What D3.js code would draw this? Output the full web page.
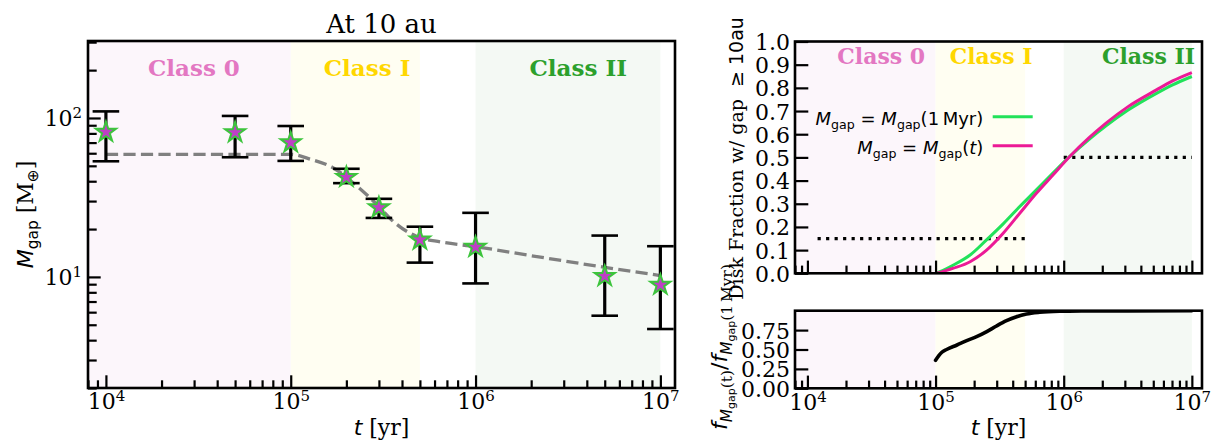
<!DOCTYPE html>
<html><head><meta charset="utf-8">
<script src="https://cdn.jsdelivr.net/npm/d3@7"></script>
<style>html,body{margin:0;padding:0;background:#fff;} svg{display:block;}</style>
</head><body>
<svg id="c" width="1216" height="443"></svg>
<script>
// ---------------- data ----------------
const obsT  = [1e4, 5e4, 1e5, 2e5, 3e5, 5e5, 1e6, 5e6, 1e7];
const obsM  = [81.5, 81, 70, 42.4, 27.3, 17.1, 15.4, 10.1, 8.9];
const obsHi = [110, 103, 89, 47.9, 31.0, 20.7, 25.3, 18.2, 15.6];
const obsLo = [53.4, 56.6, 53.7, 38.9, 23.5, 12.3, 9.1, 5.7, 4.7];

const modelT = [1e4, 1e5, 1.28e5, 1.71e5, 2.3e5, 2.94e5, 3.61e5, 4.84e5, 6.5e5, 1e6, 2e6, 5e6, 1e7];
const modelM = [59, 59, 55, 48.3, 37, 28.4, 22.2, 17.9, 16.6, 15.5, 13.6, 11.5, 10.2];

const fracT     = [1e5, 1.08e5, 1.38e5, 1.86e5, 2.5e5, 3.37e5, 4.54e5, 6.12e5, 8.24e5, 1.11e6, 1.58e6, 2.14e6, 3.16e6, 5.25e6, 7.08e6, 1e7];
const fracConst = [0, 0.007, 0.036, 0.079, 0.144, 0.213, 0.288, 0.36, 0.432, 0.503, 0.578, 0.636, 0.703, 0.775, 0.813, 0.849];
const fracEvol  = [0, 0.004, 0.022, 0.05, 0.1, 0.173, 0.259, 0.345, 0.424, 0.503, 0.585, 0.648, 0.718, 0.79, 0.83, 0.866];

const ratioT = [1e5, 1.06e5, 1.12e5, 1.22e5, 1.47e5, 1.75e5, 2.09e5, 2.51e5, 2.99e5, 3.58e5, 4.29e5, 5.12e5, 6.5e5, 9.3e5, 1.41e6, 3e6, 1e7];
const ratio  = [0.36, 0.42, 0.465, 0.5, 0.558, 0.614, 0.665, 0.73, 0.803, 0.871, 0.923, 0.957, 0.979, 0.992, 0.996, 0.998, 0.999];

const obsFracStart = [1.2e4, 1e6];
const obsFracEnd   = [5e5, 1e7];
const obsFrac      = [0.15, 0.5];

const classNames = ["Class 0", "Class I", "Class II"];
const classStart = [5e3, 1e5, 1e6];
const classEnd   = [1e5, 5e5, 1e7];
const classLabelTL = [1.69e4, 1.51e5, 1.96e6];
const classLabelTR = [1.71e4, 1.29e5, 1.99e6];

const xTicks   = [1e4, 1e5, 1e6, 1e7];
const yTicksL  = [10, 100];
const yTicksRT = [0, 0.1, 0.2, 0.3, 0.4, 0.5, 0.6, 0.7, 0.8, 0.9, 1.0];
const yTicksRB = [0, 0.25, 0.5, 0.75];
const legendLabels = ["const", "evol"];

// ---------------- style ----------------
const SERIF = "'DejaVu Serif', serif", SANS = "'DejaVu Sans', sans-serif";
const classColor = ["#e377c2", "#ffd700", "#2ca02c"];
const bandColor  = ["#fcf6fb", "#fffef2", "#f4f9f4"];
const GREEN = "#22e25a", PINK = "#ec1a96";

const svg = d3.select('#c');
const LP = {l:88, r:675, t:41, b:388};
const RT = {l:795, r:1202, t:41.5, b:273.3};
const RB = {l:795, r:1202, t:310.7, b:388.3};
const tDom = [8e3, 1.2e7];

const xL  = d3.scaleLog().domain(tDom).range([LP.l, LP.r]);
const yL  = d3.scaleLog().domain([2, 305]).range([LP.b, LP.t]);
const xR  = d3.scaleLog().domain(tDom).range([RT.l, RT.r]);
const yRT = d3.scaleLinear().domain([0, 1]).range([RT.b, RT.t]);
const yRB = d3.scaleLinear().domain([0, 1]).range([RB.b, RB.t]);

function minorLog(dom){
  const out=[];
  for(let e=Math.floor(Math.log10(dom[0])); e<=Math.ceil(Math.log10(dom[1])); e++)
    for(let m=2;m<=9;m++){ const v=m*Math.pow(10,e); if(v>=dom[0]&&v<=dom[1]) out.push(v); }
  return out;
}

const defs = svg.append('defs');
function clip(id, P){
  defs.append('clipPath').attr('id',id).append('rect')
    .attr('x',P.l).attr('y',P.t).attr('width',P.r-P.l).attr('height',P.b-P.t);
  return svg.append('g').attr('clip-path',`url(#${id})`);
}

function bands(g, x, P){
  g.selectAll('rect.band').data(classNames).join('rect').attr('class','band')
    .attr('x',(d,i)=>x(classStart[i])).attr('width',(d,i)=>x(classEnd[i])-x(classStart[i]))
    .attr('y',P.t).attr('height',P.b-P.t).attr('fill',(d,i)=>bandColor[i]);
}

function styleAxis(g){
  g.select('.domain').remove();
  g.selectAll('.tick line').attr('stroke','#000').attr('stroke-width',2.2);
}
function powLabels(g, yb){
  g.selectAll('.tick text').each(function(d){
    const t=d3.select(this);
    t.text(null).attr('y',yb).attr('dy',null).attr('font-family',SERIF).attr('font-size',22).attr('fill','#000');
    t.append('tspan').text('10');
    t.append('tspan').attr('font-size',15).attr('dy',-8).text(Math.round(Math.log10(d)));
  });
}
function numLabels(g, fmt){
  g.selectAll('.tick text').each(function(d){
    d3.select(this).text(fmt(d)).attr('x',-5).attr('y',8).attr('dy',null)
      .attr('font-family',SERIF).attr('font-size',22).attr('fill','#000');
  });
}
function xAxes(x, P, labels){
  svg.append('g').attr('transform',`translate(0,${P.b})`)
    .call(d3.axisBottom(x).tickValues(minorLog(tDom)).tickSize(-7.7).tickSizeOuter(0).tickFormat(''))
    .call(styleAxis);
  const g = svg.append('g').attr('transform',`translate(0,${P.b})`)
    .call(d3.axisBottom(x).tickValues(xTicks).tickSize(-12.7).tickSizeOuter(0).tickFormat(''))
    .call(styleAxis);
  if(labels) g.call(gg=>powLabels(gg, 21.3));
  else g.selectAll('.tick text').remove();
}
function frame(P){
  svg.append('rect').attr('x',P.l).attr('y',P.t).attr('width',P.r-P.l).attr('height',P.b-P.t)
    .attr('fill','none').attr('stroke','#000').attr('stroke-width',2.6);
}

// ================= LEFT PANEL =================
const gL = clip('clipL', LP);
bands(gL, xL, LP);
gL.selectAll('text.cls').data(classNames).join('text').attr('class','cls')
  .attr('x',(d,i)=>xL(classLabelTL[i])).attr('y',76)
  .attr('font-family',SERIF).attr('font-weight','bold').attr('font-size',23)
  .attr('fill',(d,i)=>classColor[i]).text(d=>d);

const modelLine = d3.line().x((d,i)=>xL(modelT[i])).y(d=>yL(d)).curve(d3.curveMonotoneX);
gL.append('path').datum(modelM).attr('d',modelLine).attr('fill','none')
  .attr('stroke','#808080').attr('stroke-width',3.3).attr('stroke-dasharray','12.2,5.3');

const eb = svg.append('g');
eb.selectAll('line.bar').data(obsT).join('line').attr('class','bar')
  .attr('x1',d=>xL(d)).attr('x2',d=>xL(d))
  .attr('y1',(d,i)=>yL(obsLo[i])).attr('y2',(d,i)=>yL(obsHi[i]))
  .attr('stroke','#000').attr('stroke-width',3.2);
['lo','hi'].forEach(k=>{
  const arr = k==='lo'?obsLo:obsHi;
  eb.selectAll('line.cap'+k).data(obsT).join('line').attr('class','cap'+k)
    .attr('x1',d=>xL(d)-13.3).attr('x2',d=>xL(d)+13.3)
    .attr('y1',(d,i)=>yL(arr[i])).attr('y2',(d,i)=>yL(arr[i]))
    .attr('stroke','#000').attr('stroke-width',2.6);
});
const star = d3.symbol().type(d3.symbolStar).size(125);
svg.append('g').selectAll('path').data(obsT).join('path')
  .attr('transform',(d,i)=>`translate(${xL(d)},${yL(obsM[i])})`)
  .attr('d',star).attr('fill','#bf3fc6').attr('stroke','#3cc43c').attr('stroke-width',2)
  .attr('stroke-linejoin','miter');

frame(LP);
xAxes(xL, LP, true);
svg.append('g').attr('transform',`translate(${LP.l},0)`)
  .call(d3.axisLeft(yL).tickValues(minorLog([2,305])).tickSize(-8.7).tickSizeOuter(0).tickFormat(''))
  .call(styleAxis);
svg.append('g').attr('transform',`translate(${LP.l},0)`)
  .call(d3.axisLeft(yL).tickValues(yTicksL).tickSize(-12.7).tickSizeOuter(0).tickFormat(''))
  .call(styleAxis)
  .call(g=>g.selectAll('.tick text').each(function(d){
    const t=d3.select(this);
    t.text(null).attr('x',-6).attr('y',8).attr('dy',null).attr('font-family',SERIF).attr('font-size',22).attr('fill','#000');
    t.append('tspan').text('10');
    t.append('tspan').attr('font-size',15).attr('dy',-8).text(Math.round(Math.log10(d)));
  }));

svg.append('text').attr('x',(LP.l+LP.r)/2).attr('y',33).attr('text-anchor','middle')
  .attr('font-family',SERIF).attr('font-size',26).text('At 10 au');

function xLabel(cx){
  const t = svg.append('text').attr('x',cx).attr('y',435).attr('text-anchor','middle').attr('font-size',22);
  t.append('tspan').attr('font-family',SANS).attr('font-style','italic').text('t');
  t.append('tspan').attr('font-family',SERIF).text('\u00a0[yr]');
}
xLabel((LP.l+LP.r)/2);

{
  const t = svg.append('text').attr('transform',`translate(33,${(LP.t+LP.b)/2}) rotate(-90)`)
    .attr('text-anchor','middle').attr('font-size',22);
  t.append('tspan').attr('font-family',SANS).attr('font-style','italic').text('M');
  t.append('tspan').attr('font-family',SANS).attr('font-size',15.4).attr('dy',4.5).text('gap');
  t.append('tspan').attr('font-family',SERIF).attr('dy',-4.5).text('\u00a0[M');
  t.append('tspan').attr('font-family',SANS).attr('font-size',15.4).attr('dy',4.5).text('\u2295');
  t.append('tspan').attr('font-family',SERIF).attr('dy',-4.5).text(']');
}

// ================= RIGHT TOP PANEL =================
const gRT = clip('clipRT', RT);
bands(gRT, xR, RT);
gRT.selectAll('text.cls').data(classNames).join('text').attr('class','cls')
  .attr('x',(d,i)=>xR(classLabelTR[i])).attr('y',64)
  .attr('font-family',SERIF).attr('font-weight','bold').attr('font-size',22)
  .attr('fill',(d,i)=>classColor[i]).text(d=>d);

gRT.selectAll('line.obs').data(obsFrac).join('line').attr('class','obs')
  .attr('x1',(d,i)=>xR(obsFracStart[i])).attr('x2',(d,i)=>xR(obsFracEnd[i]))
  .attr('y1',d=>yRT(d)).attr('y2',d=>yRT(d))
  .attr('stroke','#000').attr('stroke-width',3.2).attr('stroke-dasharray','3.2,5.3');

const fracLine = d3.line().x((d,i)=>xR(fracT[i])).y(d=>yRT(d)).curve(d3.curveMonotoneX);
gRT.append('path').datum(fracConst).attr('d',fracLine).attr('fill','none').attr('stroke',GREEN).attr('stroke-width',3);
gRT.append('path').datum(fracEvol).attr('d',fracLine).attr('fill','none').attr('stroke',PINK).attr('stroke-width',3);

// legend
const legY = [116.7, 145.7];
const legCol = [GREEN, PINK];
const leg = svg.append('g');
legendLabels.forEach((k,i)=>{
  leg.append('line').attr('x1',992.7).attr('x2',1032.7).attr('y1',legY[i]).attr('y2',legY[i])
    .attr('stroke',legCol[i]).attr('stroke-width',3);
  const t = leg.append('text').attr('x',983.3).attr('y',legY[i]+8).attr('text-anchor','end')
    .attr('font-family',SANS).attr('font-size',18);
  t.append('tspan').attr('font-style','italic').text('M');
  t.append('tspan').attr('font-size',12.6).attr('dy',4).text('gap');
  t.append('tspan').attr('dy',-4).text('\u00a0=\u00a0');
  t.append('tspan').attr('font-style','italic').text('M');
  t.append('tspan').attr('font-size',12.6).attr('dy',4).text('gap');
  if(k==='const'){
    t.append('tspan').attr('dy',-4).text('(1\u2009Myr)');
  } else {
    t.append('tspan').attr('dy',-4).text('(');
    t.append('tspan').attr('font-style','italic').text('t');
    t.append('tspan').text(')');
  }
});

frame(RT);
xAxes(xR, RT, false);
svg.append('g').attr('transform',`translate(${RT.l},0)`)
  .call(d3.axisLeft(yRT).tickValues(yTicksRT).tickSize(-13.3).tickSizeOuter(0))
  .call(styleAxis).call(g=>numLabels(g, d3.format('.1f')));

{
  const t = svg.append('text').attr('transform',`translate(743,${(RT.t+RT.b)/2+1}) rotate(-90)`)
    .attr('text-anchor','middle').attr('font-size',19);
  t.append('tspan').attr('font-family',SERIF).text('Disk Fraction w/ gap\u00a0\u00a0');
  t.append('tspan').attr('font-family',SANS).text('\u2265\u00a010au');
}

// ================= RIGHT BOTTOM PANEL =================
const gRB = clip('clipRB', RB);
bands(gRB, xR, RB);
const ratioLine = d3.line().x((d,i)=>xR(ratioT[i])).y(d=>yRB(d)).curve(d3.curveMonotoneX);
gRB.append('path').datum(ratio).attr('d',ratioLine).attr('fill','none')
  .attr('stroke','#000').attr('stroke-width',3.6).attr('stroke-linecap','round');

frame(RB);
xAxes(xR, RB, true);
svg.append('g').attr('transform',`translate(${RB.l},0)`)
  .call(d3.axisLeft(yRB).tickValues(yTicksRB).tickSize(-13.3).tickSizeOuter(0))
  .call(styleAxis).call(g=>numLabels(g, d3.format('.2f')));
xLabel((RB.l+RB.r)/2);

{
  const t = svg.append('text').attr('transform',`translate(727,347) rotate(-90)`)
    .attr('text-anchor','middle').attr('font-size',22).attr('font-family',SANS);
  t.append('tspan').attr('font-style','italic').text('f');
  t.append('tspan').attr('font-style','italic').attr('font-size',15.4).attr('dy',4.5).text('M');
  t.append('tspan').attr('font-size',11).attr('dy',3).text('gap');
  t.append('tspan').attr('font-family',SERIF).attr('font-size',15.4).attr('dy',-3).text('(t)');
  t.append('tspan').attr('dy',-4.5).text('/');
  t.append('tspan').attr('font-style','italic').text('f');
  t.append('tspan').attr('font-style','italic').attr('font-size',15.4).attr('dy',4.5).text('M');
  t.append('tspan').attr('font-size',11).attr('dy',3).text('gap');
  t.append('tspan').attr('font-family',SERIF).attr('font-size',15.4).attr('dy',-3).text('(1\u2009Myr)');
}
</script>
</body></html>
